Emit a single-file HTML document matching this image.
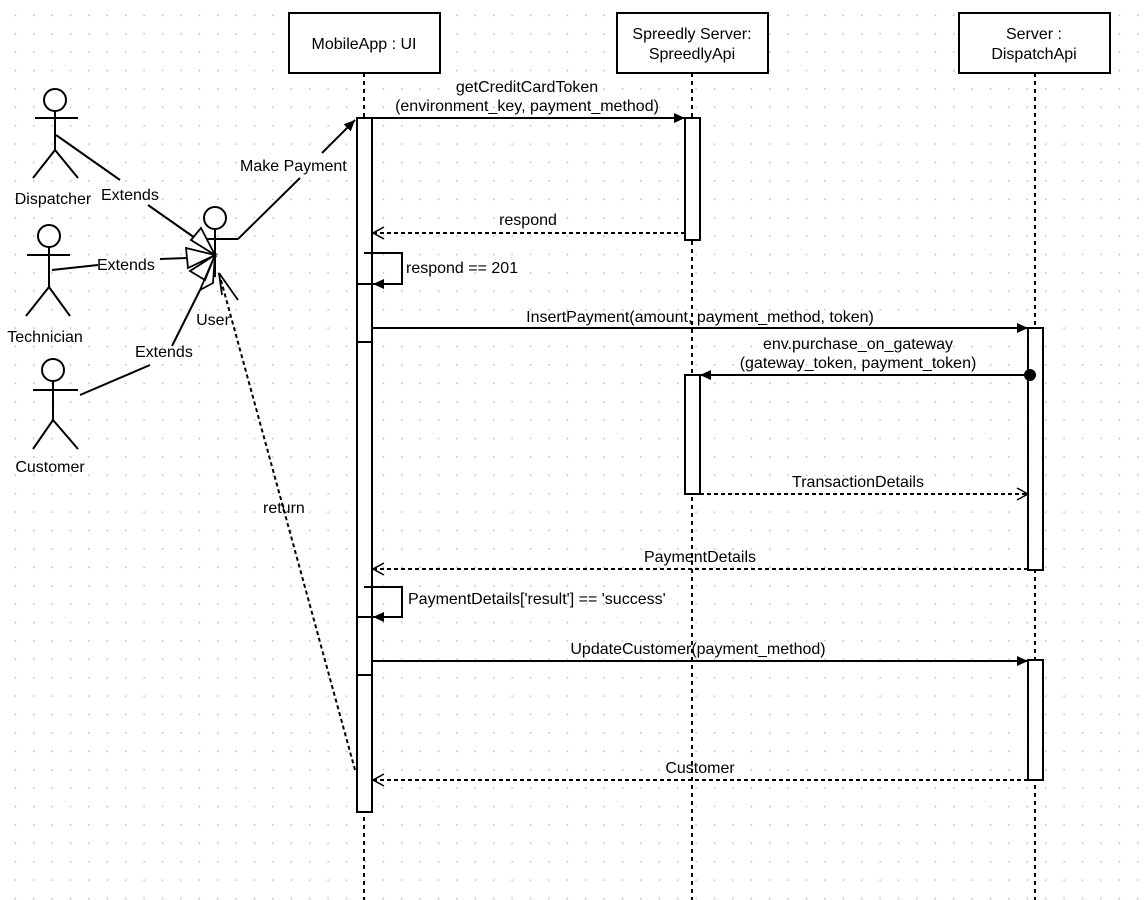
<!DOCTYPE html>
<html><head><meta charset="utf-8"><style>
html,body{margin:0;padding:0;background:#fff;}
svg{display:block;}
text{font-family:"Liberation Sans",Helvetica,Arial,sans-serif;font-size:16px;fill:#000;}
</style></head><body>
<svg width="1145" height="900" viewBox="0 0 1145 900" xmlns="http://www.w3.org/2000/svg">
<defs>
<pattern id="g" x="6" y="6" width="18.4" height="18.4" patternUnits="userSpaceOnUse">
<rect x="8.6" y="8.6" width="1.5" height="1.5" fill="#bdbdbd"/>
</pattern>
<marker id="fa" markerWidth="12" markerHeight="12" refX="11" refY="6" orient="auto" markerUnits="userSpaceOnUse"><path d="M0,1 L11,6 L0,11 Z" fill="#000"/></marker>
<marker id="oa" markerWidth="14" markerHeight="14" refX="12" refY="7" orient="auto" markerUnits="userSpaceOnUse"><path d="M1,1 L12,7 L1,13" fill="none" stroke="#000" stroke-width="1.5"/></marker>
</defs>
<rect width="1145" height="900" fill="url(#g)"/>
<g stroke="#000" stroke-width="2" fill="none">
<line x1="364" y1="73" x2="364" y2="900" stroke-dasharray="4,4"/>
<line x1="692" y1="73" x2="692" y2="900" stroke-dasharray="4,4"/>
<line x1="1035" y1="73" x2="1035" y2="900" stroke-dasharray="4,4"/>
<rect x="289" y="13" width="151" height="60" fill="#fff"/>
<rect x="617" y="13" width="151" height="60" fill="#fff"/>
<rect x="959" y="13" width="151" height="60" fill="#fff"/>
<rect x="357" y="118" width="15" height="694" fill="#fff"/>
<rect x="357" y="284" width="15" height="58" fill="#fff"/>
<rect x="357" y="617" width="15" height="58" fill="#fff"/>
<rect x="685" y="118" width="15" height="122" fill="#fff"/>
<rect x="685" y="375" width="15" height="119" fill="#fff"/>
<rect x="1028" y="328" width="15" height="242" fill="#fff"/>
<rect x="1028" y="660" width="15" height="120" fill="#fff"/>
<line x1="372" y1="118" x2="685" y2="118" marker-end="url(#fa)"/>
<line x1="685" y1="233" x2="373" y2="233" stroke-dasharray="4,3" marker-end="url(#oa)"/>
<polyline points="364,253 402,253 402,284 373,284" marker-end="url(#fa)"/>
<line x1="372" y1="328" x2="1028" y2="328" marker-end="url(#fa)"/>
<line x1="1028" y1="375" x2="700" y2="375" marker-end="url(#fa)"/>
<line x1="700" y1="494" x2="1028" y2="494" stroke-dasharray="4,3" marker-end="url(#oa)"/>
<line x1="1028" y1="569" x2="373" y2="569" stroke-dasharray="4,3" marker-end="url(#oa)"/>
<polyline points="364,587 402,587 402,617 373,617" marker-end="url(#fa)"/>
<line x1="372" y1="661" x2="1028" y2="661" marker-end="url(#fa)"/>
<line x1="1028" y1="780" x2="373" y2="780" stroke-dasharray="4,3" marker-end="url(#oa)"/>
<circle cx="55" cy="100" r="11" fill="#fff"/>
<line x1="55" y1="111" x2="55" y2="150"/><line x1="35" y1="118" x2="78" y2="118"/>
<polyline points="33,178 55,150 78,178"/>
<circle cx="49" cy="236" r="11" fill="#fff"/>
<line x1="49" y1="247" x2="49" y2="287"/><line x1="27" y1="255" x2="70" y2="255"/>
<polyline points="26,316 49,287 70,316"/>
<circle cx="53" cy="370" r="11" fill="#fff"/>
<line x1="53" y1="381" x2="53" y2="420"/><line x1="33" y1="390" x2="78" y2="390"/>
<polyline points="33,449 53,420 78,449"/>
<circle cx="215" cy="218" r="11" fill="#fff"/>
<line x1="215" y1="229" x2="215" y2="277"/><line x1="193" y1="239" x2="238" y2="239"/>
<polyline points="56,135 120,180"/><polyline points="148,205 195,238"/>
<line x1="52" y1="270" x2="98" y2="265"/><line x1="160" y1="259" x2="187" y2="258"/>
<polyline points="80,395 150,365"/><line x1="172" y1="346" x2="200" y2="290"/>
<path d="M191,240 L201,228 L215,255 Z M186,248 L215,255 L188,268 Z M190,271 L215,255 L205,280 Z M200,290 L215,255 L213,283 Z" fill="#fff" stroke-width="1.8"/>
<polyline points="238,239 300,178"/><line x1="322" y1="153" x2="355" y2="120" marker-end="url(#fa)"/>
<line x1="355" y1="770" x2="219" y2="273" stroke-dasharray="4,3"/>
<polyline points="222,295 219,273 238,300" stroke-width="1.8"/>
<circle cx="1030" cy="375" r="5" fill="#000"/>
</g>
<g text-anchor="middle">
<text x="364" y="49">MobileApp : UI</text>
<text x="692" y="39">Spreedly Server:</text>
<text x="692" y="59">SpreedlyApi</text>
<text x="1034" y="39">Server :</text>
<text x="1034" y="59">DispatchApi</text>
<text x="527" y="92">getCreditCardToken</text>
<text x="527" y="111">(environment_key, payment_method)</text>
<text x="528" y="225">respond</text>
<text x="700" y="322">InsertPayment(amount, payment_method, token)</text>
<text x="858" y="349">env.purchase_on_gateway</text>
<text x="858" y="368">(gateway_token, payment_token)</text>
<text x="858" y="487">TransactionDetails</text>
<text x="700" y="562">PaymentDetails</text>
<text x="698" y="654">UpdateCustomer(payment_method)</text>
<text x="700" y="773">Customer</text>
<text x="53" y="204">Dispatcher</text>
<text x="45" y="342">Technician</text>
<text x="50" y="472">Customer</text>
<text x="213" y="325">User</text>
</g>
<text x="406" y="273">respond == 201</text>
<text x="408" y="604">PaymentDetails['result'] == 'success'</text>
<text x="240" y="171">Make Payment</text>
<text x="101" y="200">Extends</text>
<text x="97" y="270">Extends</text>
<text x="135" y="357">Extends</text>
<text x="263" y="513">return</text>
</svg>
</body></html>
